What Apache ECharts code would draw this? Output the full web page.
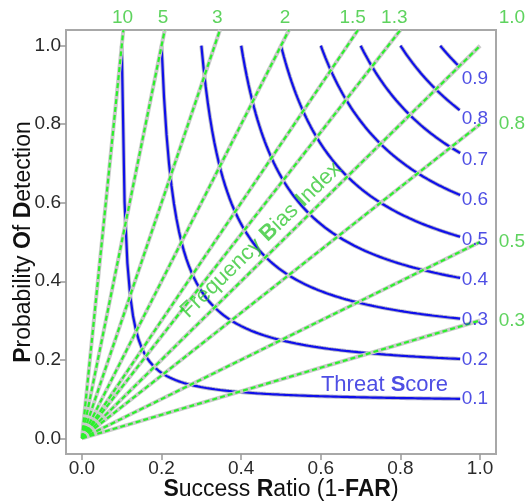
<!DOCTYPE html>
<html>
<head>
<meta charset="utf-8">
<script src="https://cdn.jsdelivr.net/npm/echarts@6/dist/echarts.min.js"></script>
<style>
html,body{margin:0;padding:0;background:#fff;}
#chart{width:527px;height:501px;}
</style>
</head>
<body>
<div id="chart"></div>
<script>
// ---- data ----
const tickValues = [0.0, 0.2, 0.4, 0.6, 0.8, 1.0];
const biasValues = [10, 5, 3, 2, 1.5, 1.3, 1.0, 0.8, 0.5, 0.3];
const biasLabels = ['10', '5', '3', '2', '1.5', '1.3', '1.0', '0.8', '0.5', '0.3'];
const csiValues = [0.1, 0.2, 0.3, 0.4, 0.5, 0.6, 0.7, 0.8, 0.9];
const csiLabels = ['0.1', '0.2', '0.3', '0.4', '0.5', '0.6', '0.7', '0.8', '0.9'];
const axisMin = -0.04, axisMax = 1.04;
const csiEndSR = 0.95;

const FONT = '"Liberation Sans", Arial, sans-serif';
const BLUE = '#1010ea';
const BLUE_TXT = '#2222dd';
const GREEN = '#2cf02c';
const GREEN_TXT = '#36c836';

function podFromCsi(c, sr) { return 1 / (1 / c - 1 / sr + 1); }

const series = [];

// CSI (threat score) isopleths
csiValues.forEach(function (c) {
  const pts = [];
  const n = 120;
  for (let i = 0; i <= n; i++) {
    const sr = c + (csiEndSR - c) * i / n;
    pts.push([sr, podFromCsi(c, sr)]);
  }
  series.push({
    type: 'line', data: pts, symbol: 'none', silent: true, z: 2,
    lineStyle: { color: '#b8b8c8', width: 4 }
  });
  series.push({
    type: 'line', data: pts, symbol: 'none', silent: true, z: 2,
    lineStyle: { color: BLUE, width: 2.2 }
  });
});

// frequency bias lines
biasValues.forEach(function (b) {
  const end = b > 1 ? [axisMax / b, axisMax] : [1, b];
  const pts = [[0, 0], end];
  series.push({
    type: 'line', data: pts, symbol: 'none', silent: true, z: 3,
    lineStyle: { color: '#cacaca', width: 4 }
  });
  series.push({
    type: 'line', data: pts, symbol: 'none', silent: true, z: 4,
    lineStyle: { color: GREEN, width: 2.2, type: [5, 3] }
  });
});

// CSI labels
series.push({
  type: 'scatter', symbolSize: 0, clip: false, silent: true, z: 6,
  data: csiValues.map(function (c, i) {
    return { value: [0.987, podFromCsi(c, 0.98)], name: csiLabels[i] };
  }),
  label: {
    show: true, position: 'inside', formatter: '{b}',
    color: BLUE_TXT, fontSize: 19, fontFamily: FONT
  }
});

// bias labels
series.push({
  type: 'scatter', symbolSize: 0, clip: false, silent: true, z: 6,
  data: biasValues.map(function (b, i) {
    const x = b > 1 ? 1.02 / b : 1.08;
    const y = b >= 1 ? 1.07 : b;
    return { value: [x, y], name: biasLabels[i] };
  }),
  label: {
    show: true, position: 'inside', formatter: '{b}',
    color: GREEN_TXT, fontSize: 19, fontFamily: FONT
  }
});

// annotation texts
series.push({
  type: 'scatter', symbolSize: 0, clip: false, silent: true, z: 7,
  data: [
    { value: [0.45, 0.505], name: 'fbi' }
  ],
  label: {
    show: true, position: 'inside', rotate: 44,
    formatter: 'Frequency {b|B}ias {b|I}ndex',
    color: GREEN_TXT, fontSize: 22, fontFamily: FONT,
    rich: { b: { fontWeight: 'bold', color: GREEN_TXT, fontSize: 22, fontFamily: FONT } }
  }
});
series.push({
  type: 'scatter', symbolSize: 0, clip: false, silent: true, z: 7,
  data: [
    { value: [0.76, 0.135], name: 'ts' }
  ],
  label: {
    show: true, position: 'inside',
    formatter: 'Threat {b|S}core',
    color: BLUE_TXT, fontSize: 22, fontFamily: FONT,
    rich: { b: { fontWeight: 'bold', color: BLUE_TXT, fontSize: 22, fontFamily: FONT } }
  }
});

const axisCommon = {
  type: 'value', min: axisMin, max: axisMax,
  splitLine: { show: false },
  axisLine: { show: false, onZero: false },
  axisTick: { show: true, inside: false, customValues: tickValues, length: 6, lineStyle: { color: '#999', width: 1.5 } },
  axisLabel: {
    customValues: tickValues, formatter: function (v) { return v.toFixed(1); },
    fontSize: 19, color: '#2a2a2a', fontFamily: FONT, margin: 5
  },
  nameLocation: 'middle',
  nameMoveOverlap: false,
  nameTextStyle: {
    fontSize: 23, color: '#111', fontFamily: FONT,
    rich: { b: { fontWeight: 'bold', fontSize: 23, color: '#111', fontFamily: FONT } }
  }
};

const option = {
  animation: false,
  backgroundColor: '#fff',
  grid: { left: 66, right: 31, top: 30, bottom: 47, show: true, borderColor: '#a8a8a8', borderWidth: 2, containLabel: false, outerBoundsMode: 'none' },
  xAxis: Object.assign({}, axisCommon, { name: '{b|S}uccess {b|R}atio (1-{b|FAR})', nameGap: 24 }),
  yAxis: Object.assign({}, axisCommon, { name: '{b|P}robability {b|O}f {b|D}etection', nameGap: 31 }),
  series: series
};

const chart = echarts.init(document.getElementById('chart'), null, { renderer: 'canvas' });
chart.setOption(option);
</script>
</body>
</html>
